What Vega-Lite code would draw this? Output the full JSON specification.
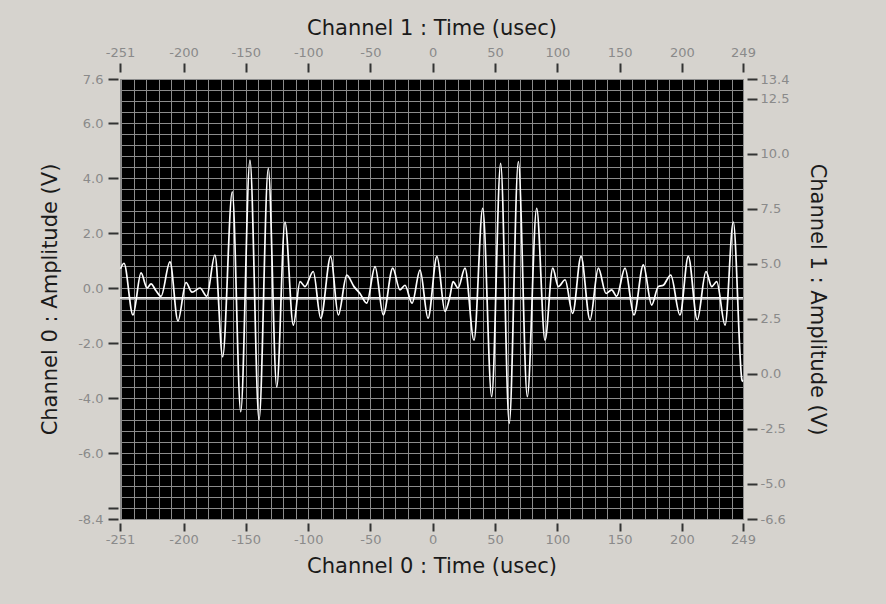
{
  "$schema": "https://vega.github.io/schema/vega-lite/v6.json",
  "width": 623,
  "height": 440,
  "autosize": {"type": "none"},
  "padding": {"left": 120, "top": 79, "right": 143, "bottom": 85},
  "background": "#d6d3ce",
  "config": {
    "view": {"fill": "#000000", "stroke": "#8a8a8a", "strokeWidth": 1},
    "axis": {
      "labelFont": "DejaVu Sans",
      "labelFontSize": 13,
      "labelColor": "#8a8a8a",
      "labelFlush": false,
      "labelOverlap": false,
      "titleFont": "DejaVu Sans",
      "titleFontSize": 21,
      "titleFontWeight": "normal",
      "titleColor": "#1a1a1a",
      "tickColor": "#333333",
      "tickWidth": 2,
      "domain": false,
      "grid": false
    }
  },
  "datasets": {
    "ch0": [
      {"t": -250.6, "v": 0.7}, {"t": -247.8, "v": 0.9}, {"t": -240.6, "v": -0.98}, {"t": -234.1, "v": 0.55},
      {"t": -229.3, "v": 0.0}, {"t": -226.1, "v": 0.15}, {"t": -222.1, "v": -0.1}, {"t": -218.1, "v": -0.3},
      {"t": -210.9, "v": 0.95}, {"t": -204.5, "v": -1.2}, {"t": -198.0, "v": 0.2}, {"t": -193.2, "v": -0.15},
      {"t": -186.8, "v": 0.0}, {"t": -181.4, "v": -0.3}, {"t": -174.8, "v": 1.2}, {"t": -168.6, "v": -2.5},
      {"t": -160.9, "v": 3.5}, {"t": -154.1, "v": -4.5}, {"t": -146.7, "v": 4.65}, {"t": -139.4, "v": -4.8},
      {"t": -132.0, "v": 4.35}, {"t": -125.2, "v": -3.6}, {"t": -118.6, "v": 2.4}, {"t": -111.9, "v": -1.35},
      {"t": -106.5, "v": 0.23}, {"t": -102.5, "v": 0.05}, {"t": -95.9, "v": 0.6}, {"t": -89.9, "v": -1.1},
      {"t": -81.9, "v": 1.15}, {"t": -75.8, "v": -0.98}, {"t": -69.0, "v": 0.47}, {"t": -63.2, "v": 0.05},
      {"t": -58.4, "v": -0.2}, {"t": -53.0, "v": -0.55}, {"t": -46.3, "v": 0.78}, {"t": -39.7, "v": -0.98},
      {"t": -32.1, "v": 0.72}, {"t": -26.3, "v": -0.07}, {"t": -22.3, "v": 0.1}, {"t": -16.6, "v": -0.55},
      {"t": -10.2, "v": 0.65}, {"t": -3.8, "v": -1.1}, {"t": 3.4, "v": 1.15}, {"t": 9.8, "v": -0.85},
      {"t": 13.8, "v": -0.3}, {"t": 16.3, "v": 0.23}, {"t": 20.3, "v": 0.0}, {"t": 25.9, "v": 0.72},
      {"t": 33.1, "v": -1.9}, {"t": 40.1, "v": 2.9}, {"t": 47.3, "v": -3.95}, {"t": 54.5, "v": 4.53},
      {"t": 61.4, "v": -4.92}, {"t": 68.7, "v": 4.6}, {"t": 75.9, "v": -3.95}, {"t": 83.4, "v": 2.9},
      {"t": 90.1, "v": -1.9}, {"t": 96.3, "v": 0.72}, {"t": 100.8, "v": 0.05}, {"t": 106.2, "v": 0.3},
      {"t": 112.3, "v": -0.92}, {"t": 119.0, "v": 1.15}, {"t": 126.2, "v": -1.16}, {"t": 132.9, "v": 0.72},
      {"t": 139.1, "v": -0.2}, {"t": 143.6, "v": -0.07}, {"t": 147.6, "v": -0.3}, {"t": 154.3, "v": 0.72},
      {"t": 161.5, "v": -0.98}, {"t": 169.0, "v": 0.84}, {"t": 175.7, "v": -0.62}, {"t": 181.0, "v": 0.05},
      {"t": 185.0, "v": 0.1}, {"t": 191.0, "v": 0.47}, {"t": 198.4, "v": -0.98}, {"t": 205.1, "v": 1.15},
      {"t": 212.3, "v": -1.16}, {"t": 219.3, "v": 0.6}, {"t": 223.9, "v": 0.05}, {"t": 227.9, "v": 0.23},
      {"t": 234.6, "v": -1.35}, {"t": 241.2, "v": 2.4}, {"t": 248.2, "v": -3.35}, {"t": 249.0, "v": -3.4}
    ],
    "ch1": [
      {"t": -251, "v": 3.45}, {"t": 249, "v": 3.45}
    ]
  },
  "layer": [
    {
      "data": {"name": "ch0"},
      "mark": {"type": "line", "opacity": 0},
      "encoding": {
        "x": {
          "field": "t", "type": "quantitative",
          "scale": {"domain": [-251, 249], "nice": false, "zero": false},
          "axis": {
            "orient": "bottom", "grid": true, "gridColor": "#8c8c8c", "gridWidth": 1, "gridOpacity": 1,
            "ticks": false, "labels": false, "domain": false, "title": null,
            "values": [-250, -240, -230, -220, -210, -200, -190, -180, -170, -160, -150, -140, -130, -120, -110, -100, -90, -80, -70, -60, -50, -40, -30, -20, -10, 0, 10, 20, 30, 40, 50, 60, 70, 80, 90, 100, 110, 120, 130, 140, 150, 160, 170, 180, 190, 200, 210, 220, 230, 240]
          }
        },
        "y": {
          "field": "v", "type": "quantitative",
          "scale": {"domain": [-8.4, 7.6], "nice": false, "zero": false},
          "axis": {
            "orient": "left", "grid": true, "gridColor": "#8c8c8c", "gridWidth": 1, "gridOpacity": 1,
            "ticks": false, "labels": false, "domain": false, "title": null,
            "values": [-8.0, -7.6, -7.2, -6.8, -6.4, -6.0, -5.6, -5.2, -4.8, -4.4, -4.0, -3.6, -3.2, -2.8, -2.4, -2.0, -1.6, -1.2, -0.8, -0.4, 0, 0.4, 0.8, 1.2, 1.6, 2.0, 2.4, 2.8, 3.2, 3.6, 4.0, 4.4, 4.8, 5.2, 5.6, 6.0, 6.4, 6.8, 7.2]
          }
        }
      }
    },
    {
      "data": {"name": "ch1"},
      "mark": {"type": "line", "color": "#f4f4f4", "strokeWidth": 1.6},
      "encoding": {
        "x": {
          "field": "t", "type": "quantitative",
          "scale": {"domain": [-251, 249], "nice": false, "zero": false},
          "axis": {
            "orient": "top", "offset": 7, "tickSize": 9, "labelPadding": 4,
            "values": [-251, -200, -150, -100, -50, 0, 50, 100, 150, 200, 249],
            "labelExpr": "replace(datum.label, '\u2212', '-')",
            "title": "Channel 1 : Time (usec)", "titlePadding": 8
          }
        },
        "y": {
          "field": "v", "type": "quantitative",
          "scale": {"domain": [-6.6, 13.4], "nice": false, "zero": false},
          "axis": {
            "orient": "right", "offset": 4, "tickSize": 10, "labelPadding": 3, "format": ".1f",
            "values": [13.4, 12.5, 10, 7.5, 5, 2.5, 0, -2.5, -5, -6.6],
            "labelExpr": "replace(datum.label, '\u2212', '-')",
            "title": "Channel 1 : Amplitude (V)", "titlePadding": 18
          }
        }
      }
    },
    {
      "data": {"name": "ch0"},
      "mark": {"type": "line", "color": "#ffffff", "strokeWidth": 1.7, "interpolate": "monotone"},
      "encoding": {
        "x": {
          "field": "t", "type": "quantitative",
          "scale": {"domain": [-251, 249], "nice": false, "zero": false},
          "axis": {
            "orient": "bottom", "offset": 4, "tickSize": 8, "labelPadding": 2,
            "values": [-251, -200, -150, -100, -50, 0, 50, 100, 150, 200, 249],
            "labelExpr": "replace(datum.label, '\u2212', '-')",
            "title": "Channel 0 : Time (usec)", "titlePadding": 9
          }
        },
        "y": {
          "field": "v", "type": "quantitative",
          "scale": {"domain": [-8.4, 7.6], "nice": false, "zero": false},
          "axis": {
            "orient": "left", "offset": 2, "tickSize": 10, "labelPadding": 5, "format": ".1f",
            "values": [7.6, 6, 4, 2, 0, -2, -4, -6, -8, -8.4],
            "labelExpr": "datum.value == -8 ? '' : replace(datum.label, '\u2212', '-')",
            "title": "Channel 0 : Amplitude (V)", "titlePadding": 17
          }
        }
      }
    }
  ],
  "resolve": {"scale": {"y": "independent"}, "axis": {"x": "independent", "y": "independent"}}
}
